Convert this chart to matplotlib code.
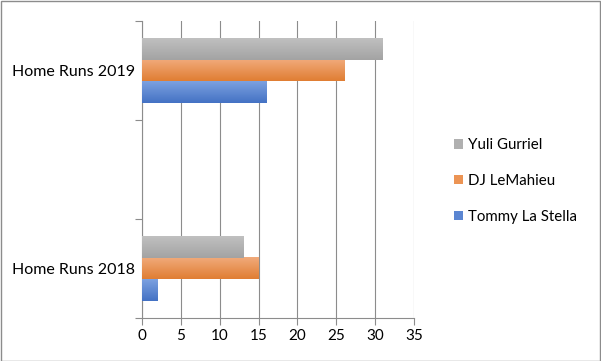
import numpy as np
import matplotlib.pyplot as plt
from matplotlib.colors import LinearSegmentedColormap
from matplotlib.patches import Patch, Rectangle

plt.rcParams['font.family'] = ['Lato', 'DejaVu Sans']

categories = ['Home Runs 2018', '', 'Home Runs 2019']
series = ['Tommy La Stella', 'DJ LeMahieu', 'Yuli Gurriel']
values = {
    'Tommy La Stella': [2, 0, 16],
    'DJ LeMahieu': [15, 0, 26],
    'Yuli Gurriel': [13, 0, 31],
}
# (top colour, bottom colour, legend colour)
colors = {
    'Tommy La Stella': ('#7ca1e0', '#4472c4', '#5b86d2'),
    'DJ LeMahieu': ('#f1aa7b', '#e07e33', '#ec9454'),
    'Yuli Gurriel': ('#c0c0c0', '#a3a3a3', '#b0b0b0'),
}

fig = plt.figure(figsize=(6.01, 3.61), dpi=100)
ax = fig.add_axes([142 / 601, 1 - 318 / 361, 272 / 601, 297 / 361])

h = 0.222
grad = np.linspace(0, 1, 64).reshape(-1, 1)
for k, name in enumerate(series):
    top, bot, _ = colors[name]
    cmap = LinearSegmentedColormap.from_list(name, [top, bot])
    off = (k - 1) * h
    for i, v in enumerate(values[name]):
        if v <= 0:
            continue
        y0 = i + off - h / 2
        ax.imshow(grad, extent=[0, v, y0, y0 + h], cmap=cmap, aspect='auto',
                  interpolation='bilinear', zorder=3, origin='upper')

ax.set_xlim(0, 35)
ax.set_ylim(-0.5, 2.5)
ax.set_xticks(np.arange(0, 36, 5))
ax.set_yticks(range(len(categories)))
ax.set_yticklabels(categories)
ax.set_yticks([-0.5, 0.5, 1.5, 2.5], minor=True)
ax.tick_params(axis='y', which='major', length=0, pad=5, labelsize=11.5)
ax.tick_params(axis='y', which='minor', length=5, color='#8c8c8c', width=0.8)
ax.tick_params(axis='x', length=5, color='#8c8c8c', width=0.8, labelsize=11, pad=3)
ax.grid(axis='x', color='#8c8c8c', linewidth=0.8, zorder=0)
ax.set_axisbelow(True)
for s in ['top', 'right']:
    ax.spines[s].set_visible(False)
for s in ['left', 'bottom']:
    ax.spines[s].set_color('#8c8c8c')
    ax.spines[s].set_linewidth(0.8)

handles = [Patch(facecolor=colors[n][2], label=n) for n in reversed(series)]
fig.legend(handles=handles, loc='center left', bbox_to_anchor=(440 / 601, 1 - 181 / 361),
           frameon=False, handlelength=0.6, handleheight=0.6, handletextpad=0.4,
           labelspacing=1.45, fontsize=10.8)

fig.patches.append(Rectangle((0.5 / 601, 0.5 / 361), 599.5 / 601, 359.5 / 361,
                             transform=fig.transFigure, fill=False,
                             edgecolor='#8c8c8c', linewidth=1))

fig.savefig('out.png', dpi=100)
